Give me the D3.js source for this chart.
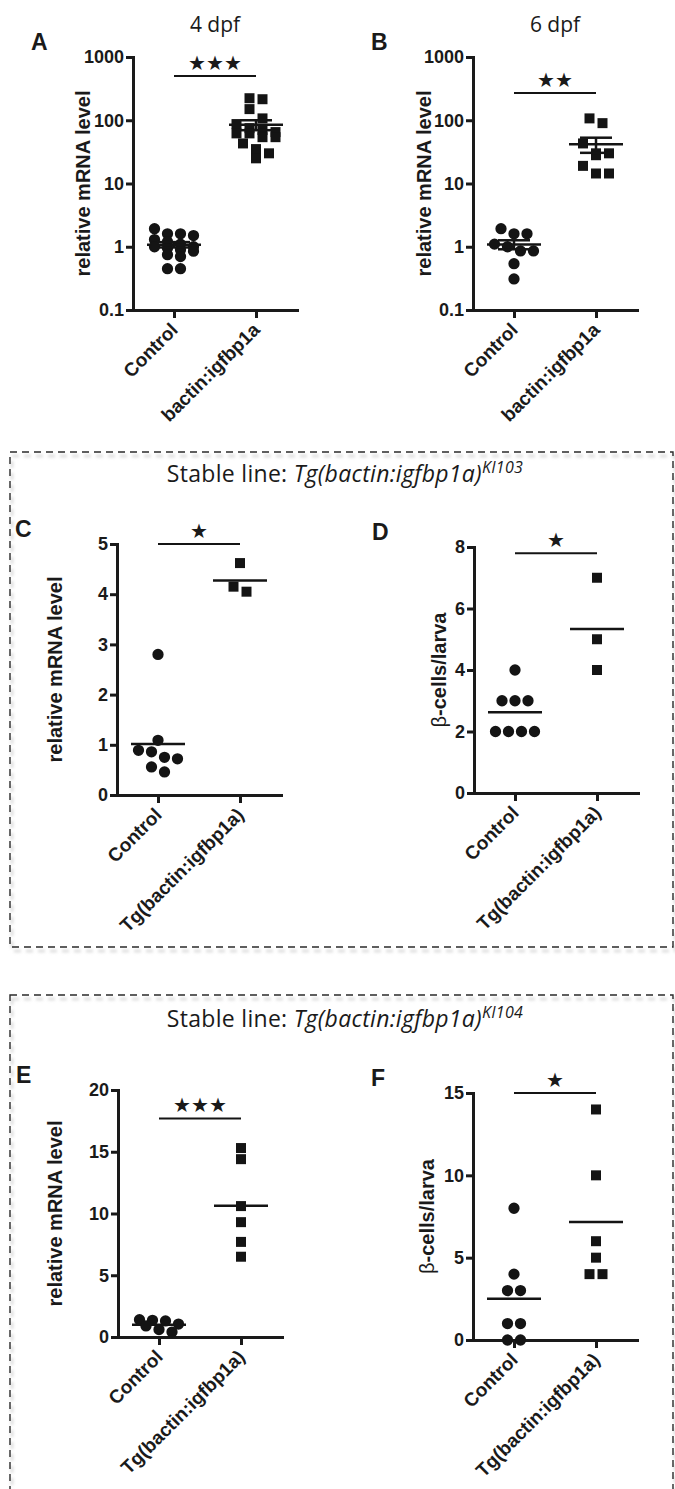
<!DOCTYPE html>
<html>
<head>
<meta charset="utf-8">
<title>igfbp1a overexpression</title>
<script src="https://cdn.jsdelivr.net/npm/d3@7"></script>
<style>
  body { margin: 0; background: #fff; }
  text { fill: #1a1a1a; }
</style>
</head>
<body>
<script>
// ---- data ----
var groupsTransient = ["Control", "bactin:igfbp1a"];
var groupsStable = ["Control", "Tg(bactin:igfbp1a)"];

// A: 4 dpf, relative mRNA level (log)
var aControl = [1.93, 1.6, 1.6, 1.5, 1.3, 1.2, 1.1, 1.0, 1.0, 0.95, 0.9, 0.85, 0.75, 0.7, 0.45, 0.45];
var aIgfbp = [223, 215, 150, 107, 87, 75, 70, 65, 62, 62, 54, 54, 43, 35, 30, 25];
// B: 6 dpf, relative mRNA level (log)
var bControl = [1.93, 1.6, 1.6, 1.1, 1.0, 0.86, 0.86, 0.54, 0.31];
var bIgfbp = [107, 90, 43, 30, 30, 28, 19, 14.4, 14.4];
// C: KI103 relative mRNA level
var cControl = [2.8, 1.09, 0.89, 0.86, 0.75, 0.72, 0.56, 0.46];
var cTg = [4.62, 4.15, 4.05];
// D: KI103 beta-cells/larva
var dControl = [4, 3, 3, 3, 2, 2, 2, 2];
var dTg = [7, 5, 4];
// E: KI104 relative mRNA level
var eControl = [1.4, 1.35, 1.3, 1.05, 0.9, 0.6, 0.4];
var eTg = [15.3, 14.4, 10.6, 9.3, 7.7, 6.5];
// F: KI104 beta-cells/larva
var fControl = [8, 4, 3, 3, 1, 1, 0, 0];
var fTg = [14, 10, 6, 5, 4, 4];

var ticksLog = [0.1, 1, 10, 100, 1000];
var ticksC = [0, 1, 2, 3, 4, 5];
var ticksD = [0, 2, 4, 6, 8];
var ticksE = [0, 5, 10, 15, 20];
var ticksF = [0, 5, 10, 15];

var starsA = "★★★", starsB = "★★", starsC = "★", starsD = "★", starsE = "★★★", starsF = "★";
var sigLevels = [500, 270, 5, 7.8, 17.7, 15];

// ---- layout ----
var W = 675, H = 1489;
var svg = d3.select("body").append("svg").attr("width", W).attr("height", H);

var axisFont = "'Liberation Sans', Arial, sans-serif";
var titleFont = "'Open Sans', 'Noto Sans', sans-serif";

// dashed frames behind the stable-line panels
var defs = svg.append("defs");
defs.append("filter").attr("id", "soft").append("feGaussianBlur").attr("stdDeviation", 1.5);

function frame(x, y, w, h) {
  svg.append("rect").attr("x", x + 2).attr("y", y + 4).attr("width", w).attr("height", h)
    .attr("fill", "none").attr("stroke", "#d8d8d8").attr("stroke-width", 2.5)
    .attr("stroke-dasharray", "7,5").attr("filter", "url(#soft)");
  svg.append("rect").attr("x", x).attr("y", y).attr("width", w).attr("height", h)
    .attr("fill", "none").attr("stroke", "#2a2a2a").attr("stroke-width", 1.4)
    .attr("stroke-dasharray", "7,5");
}
frame(10, 452, 663, 495);
frame(10, 995, 663, 540);

function frameTitle(y, sup) {
  var t = svg.append("text").attr("x", 345).attr("y", y).attr("text-anchor", "middle")
    .style("font-family", titleFont).style("font-size", "23px").style("letter-spacing", "0.3px");
  t.append("tspan").text("Stable line: ");
  t.append("tspan").style("font-style", "italic").text("Tg(bactin:igfbp1a)");
  t.append("tspan").style("font-style", "italic").style("font-size", "16px")
    .attr("dy", -9).text(sup);
}
frameTitle(482, "KI103");
frameTitle(1027, "KI104");

var panels = [
  {id: "A", axisX: 133, top: 57, bottom: 310, log: true, domain: [0.1, 1000], ticks: ticksLog,
   cats: groupsTransient, ctrl: aControl, trt: aIgfbp, sem: true, stars: starsA, sig: sigLevels[0],
   ylab: "mrna", labX: 90, title: "4 dpf"},
  {id: "B", axisX: 473, top: 57, bottom: 310, log: true, domain: [0.1, 1000], ticks: ticksLog,
   cats: groupsTransient, ctrl: bControl, trt: bIgfbp, sem: true, stars: starsB, sig: sigLevels[1],
   ylab: "mrna", labX: 431, title: "6 dpf"},
  {id: "C", axisX: 117, top: 544, bottom: 795, log: false, domain: [0, 5], ticks: ticksC,
   cats: groupsStable, ctrl: cControl, trt: cTg, sem: false, stars: starsC, sig: sigLevels[2],
   ylab: "mrna", labX: 62},
  {id: "D", axisX: 474, top: 547, bottom: 793, log: false, domain: [0, 8], ticks: ticksD,
   cats: groupsStable, ctrl: dControl, trt: dTg, sem: false, stars: starsD, sig: sigLevels[3],
   ylab: "beta", labX: 446},
  {id: "E", axisX: 118, top: 1090, bottom: 1337, log: false, domain: [0, 20], ticks: ticksE,
   cats: groupsStable, ctrl: eControl, trt: eTg, sem: false, stars: starsE, sig: sigLevels[4],
   ylab: "mrna", labX: 62},
  {id: "F", axisX: 473, top: 1093, bottom: 1340, log: false, domain: [0, 15], ticks: ticksF,
   cats: groupsStable, ctrl: fControl, trt: fTg, sem: false, stars: starsF, sig: sigLevels[5],
   ylab: "beta", labX: 434}
];

// spread overlapping points into symmetric rows, like a Prism scatter
function swarm(vals, y, rowH, gap, maxRow) {
  var pts = vals.map(function(v) { return {v: v, y: y(v)}; })
    .sort(function(a, b) { return a.y - b.y; });
  var rows = [], row = null;
  pts.forEach(function(p) {
    if (row && p.y - row[0].y < rowH && row.length < maxRow) row.push(p);
    else { row = [p]; rows.push(row); }
  });
  rows.forEach(function(r) {
    r.forEach(function(p, i) { p.dx = (i - (r.length - 1) / 2) * gap; });
  });
  return pts;
}

function drawPanel(p) {
  var g = svg.append("g");
  var y = (p.log ? d3.scaleLog() : d3.scaleLinear()).domain(p.domain).range([p.bottom, p.top]);
  var x = d3.scalePoint().domain(p.cats).range([p.axisX, p.axisX + 164]).padding(0.5);

  // panel letter
  g.append("text").attr("x", p.axisX - 102).attr("y", p.top - 7)
    .style("font-family", axisFont).style("font-weight", "bold").style("font-size", "23px")
    .text(p.id);
  if (p.title) {
    g.append("text").attr("x", x(p.cats[0]) + 41).attr("y", 32).attr("text-anchor", "middle")
      .style("font-family", titleFont).style("font-size", "21px").text(p.title);
  }

  // y axis
  var ya = g.append("g").attr("transform", "translate(" + p.axisX + ",0)")
    .call(d3.axisLeft(y).tickValues(p.ticks).tickSize(7).tickSizeOuter(0).tickPadding(2)
      .tickFormat(function(d) { return String(d); }));
  // x axis
  var xa = g.append("g").attr("transform", "translate(0," + p.bottom + ")")
    .call(d3.axisBottom(x).tickSize(8).tickSizeOuter(0).tickFormat(""));
  [ya, xa].forEach(function(a) {
    a.select(".domain").attr("stroke", "#1a1a1a").attr("stroke-width", 3).attr("stroke-linecap", "square");
    a.selectAll(".tick line").attr("stroke", "#1a1a1a").attr("stroke-width", 3);
  });
  ya.selectAll(".tick text").style("font-family", axisFont).style("font-weight", "bold")
    .style("font-size", "18px").attr("fill", "#1a1a1a");

  // rotated category labels
  g.selectAll(".cat").data(p.cats).enter().append("text")
    .attr("transform", function(d) { return "translate(" + (x(d) + 5) + "," + (p.bottom + 21) + ") rotate(-45)"; })
    .attr("text-anchor", "end")
    .style("font-family", axisFont).style("font-weight", "bold").style("font-size", "19px")
    .text(function(d) { return d; });

  // y axis title
  var yt = g.append("text")
    .attr("transform", "translate(" + p.labX + "," + ((p.top + p.bottom) / 2) + ") rotate(-90)")
    .attr("text-anchor", "middle")
    .style("font-family", axisFont).style("font-size", "20px");
  if (p.ylab === "mrna") {
    yt.style("font-weight", "bold").text("relative mRNA level");
  } else {
    yt.append("tspan").style("font-weight", "normal").text("β");
    yt.append("tspan").style("font-weight", "bold").text("-cells/larva");
  }

  // points
  var circle = d3.symbol().type(d3.symbolCircle).size(100);
  var square = d3.symbol().type(d3.symbolSquare).size(100);
  [[p.ctrl, circle, p.cats[0]], [p.trt, square, p.cats[1]]].forEach(function(s) {
    var pts = swarm(s[0], y, 10, 13, 4);
    g.selectAll(null).data(pts).enter().append("path")
      .attr("d", s[1])
      .attr("transform", function(d) { return "translate(" + (x(s[2]) + d.dx) + "," + d.y + ")"; })
      .attr("fill", "#141414");

    var m = d3.mean(s[0]);
    var cx = x(s[2]);
    g.append("line").attr("x1", cx - 27).attr("x2", cx + 27).attr("y1", y(m)).attr("y2", y(m))
      .attr("stroke", "#141414").attr("stroke-width", 2.5);
    if (p.sem) {
      var se = d3.deviation(s[0]) / Math.sqrt(s[0].length);
      var hi = y(m + se), lo = y(m - se);
      g.append("line").attr("x1", cx).attr("x2", cx).attr("y1", hi).attr("y2", lo)
        .attr("stroke", "#141414").attr("stroke-width", 2.5);
      [hi, lo].forEach(function(yy) {
        g.append("line").attr("x1", cx - 16).attr("x2", cx + 16).attr("y1", yy).attr("y2", yy)
          .attr("stroke", "#141414").attr("stroke-width", 2.5);
      });
    }
  });

  // significance bar
  var sy = y(p.sig);
  g.append("line").attr("x1", x(p.cats[0])).attr("x2", x(p.cats[1])).attr("y1", sy).attr("y2", sy)
    .attr("stroke", "#141414").attr("stroke-width", 2);
  g.append("text").attr("x", (x(p.cats[0]) + x(p.cats[1])) / 2).attr("y", sy - 6)
    .attr("text-anchor", "middle")
    .style("font-family", "'DejaVu Sans', sans-serif").style("font-size", "20px")
    .text(p.stars);
}

panels.forEach(drawPanel);
</script>
</body>
</html>
